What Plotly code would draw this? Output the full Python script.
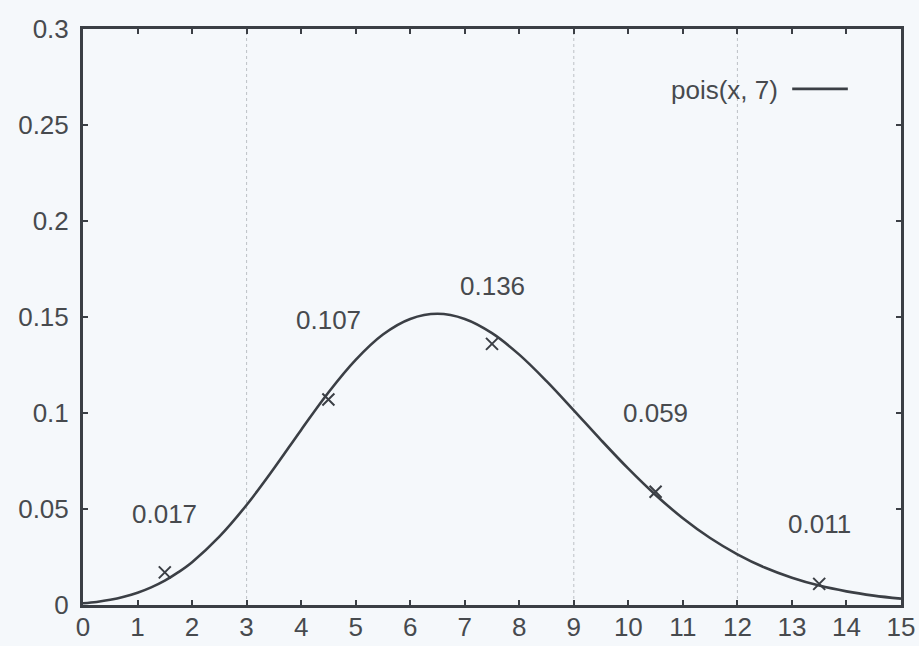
import plotly.graph_objects as go

# Continuous Poisson curve pois(x, 7)
curve_x = [0, 0.25, 0.5, 0.75, 1, 1.25, 1.5, 1.75, 2, 2.5, 3, 3.5, 4, 4.5, 5,
           5.5, 6, 6.5, 7, 7.5, 8, 8.5, 9, 9.5, 10, 10.5, 11, 11.5, 12, 12.5,
           13, 13.5, 14, 14.5, 15]
curve_y = [0.0009, 0.0016, 0.0027, 0.0043, 0.0064, 0.0092, 0.0127, 0.0171,
           0.0223, 0.0356, 0.0521, 0.0711, 0.0912, 0.1107, 0.1277, 0.1409,
           0.1490, 0.1517, 0.1490, 0.1416, 0.1304, 0.1166, 0.1014, 0.0859,
           0.0710, 0.0573, 0.0452, 0.0349, 0.0264, 0.0195, 0.0142, 0.0101,
           0.0071, 0.0049, 0.0033]

# Marked points with their labelled probabilities
point_x = [1.5, 4.5, 7.5, 10.5, 13.5]
point_y = [0.017, 0.107, 0.136, 0.059, 0.011]
point_labels = ["0.017", "0.107", "0.136", "0.059", "0.011"]
label_shift = [58, 80, 58, 79, 60]  # pixels above each marker

x_ticks = list(range(0, 16))
y_ticks = [0, 0.05, 0.1, 0.15, 0.2, 0.25, 0.3]
grid_x = [3, 9, 12]
legend_text = "pois(x, 7)"

ink = "#3b3f45"
text_col = "#474a4e"
bg = "#f5f8fb"
font = "Liberation Sans, Arial, sans-serif"
fsize = 26

fig = go.Figure()

fig.add_trace(go.Scatter(
    x=curve_x, y=curve_y, mode="lines",
    line=dict(color=ink, width=2.6, shape="spline", smoothing=1.0),
    showlegend=False, hoverinfo="skip",
))

fig.add_trace(go.Scatter(
    x=point_x, y=point_y, mode="markers",
    marker=dict(symbol="x-thin", size=12, line=dict(color=ink, width=2)),
    showlegend=False,
))

for px, py, lab, sh in zip(point_x, point_y, point_labels, label_shift):
    fig.add_annotation(x=px, y=py, text=lab, showarrow=False, yshift=sh,
                       font=dict(family=font, size=fsize, color=text_col))

for gx in grid_x:
    fig.add_shape(type="line", xref="x", yref="paper", x0=gx, x1=gx, y0=0, y1=1,
                  line=dict(color="#bcc0c5", width=1, dash="dot"), layer="below")

# Key: text followed by a line sample
fig.add_annotation(xref="paper", yref="paper", x=0.852, y=0.894, text=legend_text,
                   showarrow=False, xanchor="right", yanchor="middle",
                   font=dict(family=font, size=fsize, color=text_col))
fig.add_shape(type="line", xref="paper", yref="paper", x0=0.867, x1=0.935,
              y0=0.896, y1=0.896, line=dict(color=ink, width=2.6))

axis_common = dict(
    showline=True, linecolor=ink, linewidth=3, mirror="ticks",
    ticks="inside", ticklen=5, tickwidth=2, tickcolor=ink,
    showgrid=False, zeroline=False, automargin=False,
    tickfont=dict(family=font, size=fsize, color=text_col),
)

fig.update_xaxes(range=[0, 15], tickvals=x_ticks, ticklabelstandoff=-3, **axis_common)
fig.update_yaxes(range=[0, 0.3], tickvals=y_ticks, ticklabelstandoff=6, **axis_common)

fig.update_layout(
    width=919, height=646,
    margin=dict(l=83, r=18, t=29, b=41),
    paper_bgcolor=bg, plot_bgcolor=bg,
    showlegend=False,
)

fig.write_html("out.html")
